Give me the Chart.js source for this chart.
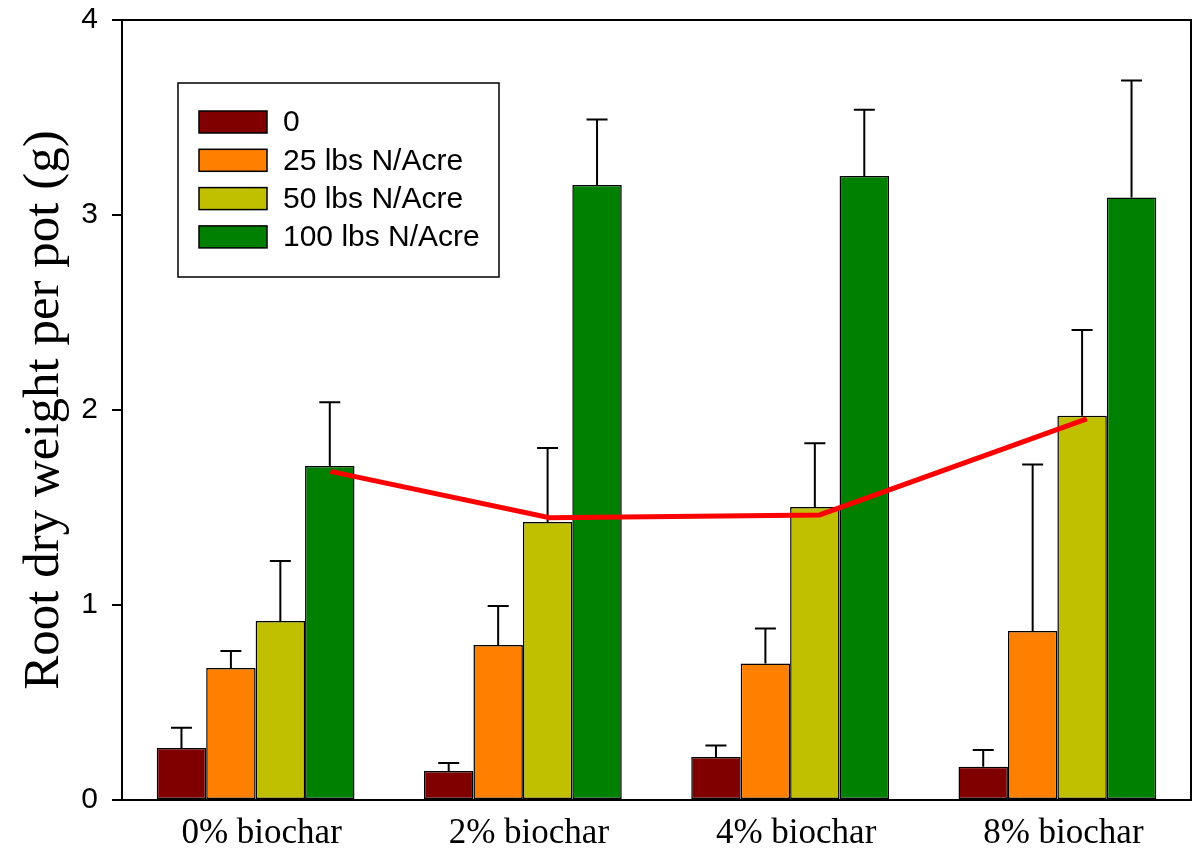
<!DOCTYPE html>
<html>
<head>
<meta charset="utf-8">
<script src="https://cdn.jsdelivr.net/npm/chart.js@4"></script>
<style>
  html, body { margin: 0; padding: 0; background: #fff; }
  #wrap { width: 1197px; height: 853px; }
</style>
</head>
<body>
<div id="wrap"><canvas id="root-canvas" width="1197" height="853"></canvas></div>
<script>
const categories = ['0% biochar', '2% biochar', '4% biochar', '8% biochar'];
const seriesNames = ['0', '25 lbs N/Acre', '50 lbs N/Acre', '100 lbs N/Acre'];
const seriesColors = ['#800000', '#FF8000', '#C0C000', '#008000'];

const rootN0 = [0.267, 0.149, 0.220, 0.170];
const rootN25 = [0.677, 0.795, 0.700, 0.867];
const rootN50 = [0.918, 1.426, 1.503, 1.970];
const rootN100 = [1.713, 3.154, 3.200, 3.090];

// upper error bar ends
const errN0 = [0.370, 0.190, 0.280, 0.256];
const errN25 = [0.764, 0.995, 0.880, 1.720];
const errN50 = [1.226, 1.805, 1.830, 2.410];
const errN100 = [2.040, 3.490, 3.540, 3.690];

// red trend line, x in category units (it is not drawn at the group centres)
const trendX = [0.28, 1.10, 2.11, 3.11];
const trendValues = [1.685, 1.448, 1.462, 1.954];
const yTicks = [0, 1, 2, 3, 4];

const barSeries = [rootN0, rootN25, rootN50, rootN100];
const errSeries = [errN0, errN25, errN50, errN100];

const datasets = [];
barSeries.forEach((vals, i) => {
    datasets.push({
        type: 'bar',
        label: seriesNames[i],
        data: vals.map((v, j) => ({ x: j, y: v })),
        errTop: errSeries[i],
        backgroundColor: seriesColors[i],
        borderColor: '#000',
        borderWidth: 1.5,
        borderSkipped: false
    });
});
datasets.push({
    type: 'line',
    label: 'trend',
    order: -1,
    data: trendValues.map((v, i) => ({ x: trendX[i], y: v })),
    borderColor: 'rgb(255,0,0)',
    borderWidth: 5,
    pointRadius: 0,
    fill: false,
    tension: 0
});

const errorBars = {
    id: 'errorBars',
    afterDatasetDraw(chart, args) {
        const ds = chart.data.datasets[args.index];
        if (!ds.errTop) return;
        const ctx = chart.ctx;
        const y = chart.scales.y;
        ctx.save();
        ctx.strokeStyle = '#000';
        ctx.lineWidth = 2;
        args.meta.data.forEach((bar, j) => {
            const top = y.getPixelForValue(ds.errTop[j]);
            ctx.beginPath();
            ctx.moveTo(bar.x, bar.y);
            ctx.lineTo(bar.x, top);
            ctx.moveTo(bar.x - 10.5, top);
            ctx.lineTo(bar.x + 10.5, top);
            ctx.stroke();
        });
        ctx.restore();
    }
};

const frameAndLegend = {
    id: 'frameAndLegend',
    afterDraw(chart) {
        const ctx = chart.ctx;
        const a = chart.chartArea;
        ctx.save();
        ctx.strokeStyle = '#000';
        ctx.lineWidth = 2;
        ctx.strokeRect(a.left, a.top, a.right - a.left, a.bottom - a.top);

        // legend box
        const lx = a.left + 56, ly = a.top + 63;
        ctx.lineWidth = 1.5;
        ctx.strokeRect(lx, ly, 321, 194);
        ctx.font = '30px "Liberation Sans", Arial, sans-serif';
        ctx.textBaseline = 'middle';
        seriesNames.forEach((name, i) => {
            const sy = ly + 28 + i * 38.3;
            ctx.fillStyle = seriesColors[i];
            ctx.fillRect(lx + 21, sy, 68, 22);
            ctx.strokeRect(lx + 21, sy, 68, 22);
            ctx.fillStyle = '#000';
            ctx.fillText(name, lx + 105, sy + 12);
        });
        ctx.restore();
    }
};

new Chart(document.getElementById('root-canvas'), {
    type: 'bar',
    data: { datasets },
    options: {
        responsive: false,
        animation: false,
        layout: { padding: { left: 0, top: 20, right: 6, bottom: 0 } },
        datasets: { bar: { categoryPercentage: 0.74, barPercentage: 1.0 } },
        plugins: { legend: { display: false }, tooltip: { enabled: false } },
        scales: {
            x: {
                type: 'linear',
                min: -0.5,
                max: categories.length - 0.5,
                offset: false,
                afterBuildTicks(s) { s.ticks = categories.map((c, i) => ({ value: i })); },
                grid: { display: false, drawTicks: false },
                border: { display: true, color: '#000', width: 2 },
                ticks: {
                    color: '#000',
                    padding: 13,
                    labelOffset: 6,
                    callback: (v) => categories[v],
                    font: { family: '"Liberation Serif", "Times New Roman", serif', size: 35 }
                },
                afterFit(s) { s.height = 53; }
            },
            y: {
                min: 0,
                max: 4,
                afterBuildTicks(s) { s.ticks = yTicks.map(v => ({ value: v })); },
                grid: { display: true, drawOnChartArea: false, tickLength: 10, color: '#000', lineWidth: 2 },
                border: { display: true, color: '#000', width: 2 },
                ticks: {
                    color: '#000',
                    padding: 14,
                    font: { family: '"Liberation Sans", Arial, sans-serif', size: 30, lineHeight: 0.4 }
                },
                title: {
                    display: true,
                    text: 'Root dry weight per pot (g)',
                    color: '#000',
                    padding: { top: 14, bottom: 0 },
                    font: { family: '"Liberation Serif", "Times New Roman", serif', size: 51 }
                },
                afterFit(s) { s.width = 122; }
            }
        }
    },
    plugins: [errorBars, frameAndLegend]
});
</script>
</body>
</html>
